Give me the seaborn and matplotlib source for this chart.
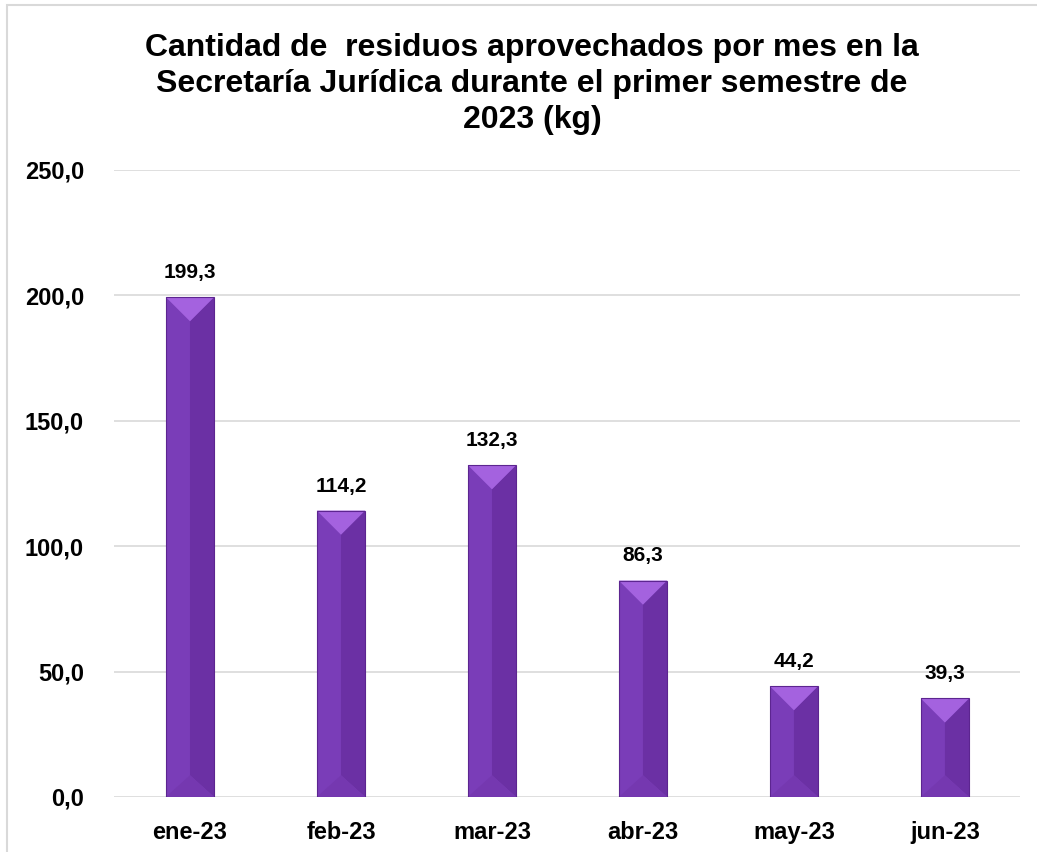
import matplotlib
matplotlib.use("Agg")
import pandas as pd
import seaborn as sns
import matplotlib.pyplot as plt
from matplotlib.patches import Polygon, Rectangle

meses = ["ene-23", "feb-23", "mar-23", "abr-23", "may-23", "jun-23"]
kg = [199.3, 114.2, 132.3, 86.3, 44.2, 39.3]
titulo = "Cantidad de  residuos aprovechados por mes en la\nSecretaría Jurídica durante el primer semestre de\n2023 (kg)"

df = pd.DataFrame({"mes": meses, "kg": kg})

sns.set_style("white")
plt.rcParams["font.family"] = ["Liberation Sans", "DejaVu Sans"]
plt.rcParams["text.color"] = "black"
plt.rcParams["xtick.color"] = "black"
plt.rcParams["ytick.color"] = "black"

fig = plt.figure(figsize=(10.37, 8.52), dpi=100)
ax = fig.add_axes([0.1104, 0.0646, 0.8736, 0.7359])

sns.barplot(data=df, x="mes", y="kg", color="#7A3DB8", width=0.32,
            saturation=1, ax=ax, zorder=3)

ax.set_ylim(0, 250)
ax.set_xlim(-0.5, 5.5)

# relacion entre unidades x e y en pixeles, para el bisel
bb = ax.get_window_extent()
x_a_y = (bb.width / 6) / (bb.height / 250)

for p in ax.patches:
    x0, y0 = p.get_x(), p.get_y()
    w, h = p.get_width(), p.get_height()
    p.set_edgecolor("none")
    d = w / 2 * x_a_y
    xm = x0 + w / 2
    ax.add_patch(Polygon([(xm, y0 + d * 0.9), (x0 + w, y0), (x0 + w, y0 + h), (xm, y0 + h - d)],
                         closed=True, facecolor="#6B30A4", edgecolor="none", zorder=4))
    ax.add_patch(Polygon([(x0, y0 + h), (x0 + w, y0 + h), (xm, y0 + h - d)],
                         closed=True, facecolor="#A462DF", edgecolor="none", zorder=4))
    ax.add_patch(Polygon([(x0, y0), (x0 + w, y0), (xm, y0 + d * 0.9)],
                         closed=True, facecolor="#7538B0", edgecolor="none", zorder=4))
    ax.add_patch(Rectangle((x0, y0), w, h, facecolor="none",
                           edgecolor="#5C2590", linewidth=0.8, zorder=5))
    ax.text(xm, y0 + h + 6, f"{h:.1f}".replace(".", ","), ha="center", va="bottom",
            fontsize=15, fontweight="bold", color="black")

ax.set_yticks([0, 50, 100, 150, 200, 250])
ax.set_yticklabels([f"{v:.1f}".replace(".", ",") for v in [0, 50, 100, 150, 200, 250]],
                   fontsize=17, fontweight="bold")
ax.set_xticklabels(meses, fontsize=17, fontweight="bold")
ax.tick_params(axis="x", length=0, pad=17)
ax.tick_params(axis="y", length=0, pad=22)
ax.yaxis.grid(True, color="#D9D9D9", linewidth=1.2, zorder=0)
ax.set_axisbelow(True)
for s in ax.spines.values():
    s.set_visible(False)
ax.set_xlabel("")
ax.set_ylabel("")

fig.text(0.513, 0.961, titulo, ha="center", va="top", fontsize=23,
         fontweight="bold", linespacing=1.25)

fig.patches.append(Rectangle((0.007, -0.01), 1.0, 1.004, transform=fig.transFigure,
                             facecolor="none", edgecolor="#D9D9D9", linewidth=1.5))

fig.savefig("out.png", dpi=100)
